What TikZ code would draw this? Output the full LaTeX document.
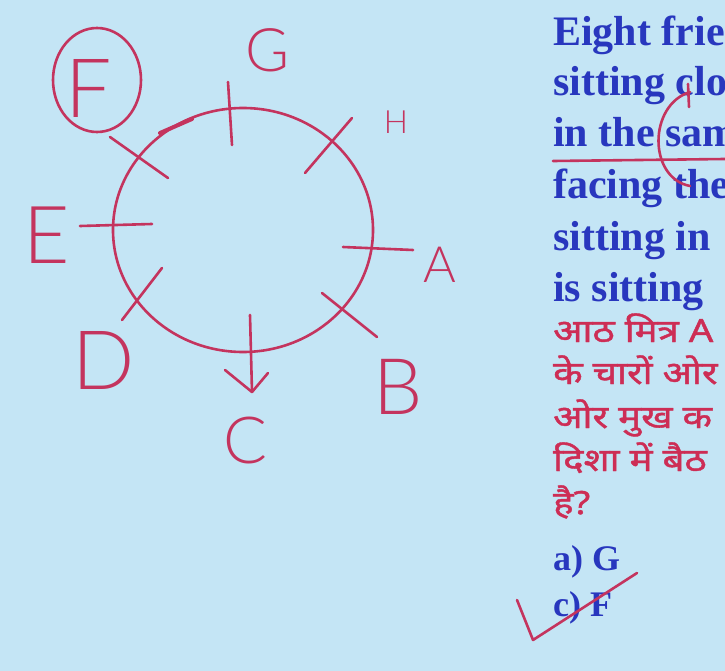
\documentclass[tikz,border=0pt]{standalone}
\usepackage{fontspec}
\setmainfont{Liberation Serif}
\newfontfamily\hindifont[Script=Devanagari,FakeBold=1.2]{Noto Sans}
\newfontfamily\handfont{Lato Light}
\usetikzlibrary{arrows.meta,positioning,shapes.geometric}
\definecolor{bgblue}{RGB}{196,229,245}
\definecolor{penred}{RGB}{196,52,94}
\definecolor{qblue}{RGB}{40,55,190}
\definecolor{hred}{RGB}{205,45,85}
\newcommand{\hwide}[1]{\scalebox{1.2}[1]{#1}}

\begin{document}
\begin{tikzpicture}[
  x=1pt,y=-1pt,
  pen/.style={draw=penred,line width=2.6pt,line cap=round,line join=round},
  hand/.style={text=penred,inner sep=0pt},
  qline/.style={anchor=base west,inner sep=0pt,text=qblue,font=\bfseries\fontsize{42}{42}\selectfont},
  hline/.style={anchor=base west,inner sep=0pt,text=hred,font=\hindifont\fontsize{32}{32}\selectfont},
  opt/.style={anchor=base west,inner sep=0pt,text=qblue,font=\bfseries\fontsize{36}{36}\selectfont}
]
\useasboundingbox (0,0) rectangle (725,671);
\clip (0,0) rectangle (725,671);
\fill[bgblue] (0,0) rectangle (725,671);

% seating ring
\node[pen,ellipse,minimum width=260,minimum height=244,inner sep=0pt] (ring) at (243,230) {};
\draw[pen,line width=4pt] (160,133) -- (192,119);

% ticks
\coordinate (g1) at (228,82);  \coordinate (g2) at (232,145);
\coordinate (h1) at (305,173); \coordinate (h2) at (352,118);
\coordinate (a1) at (343,247); \coordinate (a2) at (413,250);
\coordinate (b1) at (322,293); \coordinate (b2) at (377,337);
\coordinate (c1) at (250,315); \coordinate (c2) at (252,392);
\coordinate (d1) at (122,320); \coordinate (d2) at (162,268);
\coordinate (e1) at (80,226);  \coordinate (e2) at (152,224);
\coordinate (f1) at (110,137); \coordinate (f2) at (168,178);
\draw[pen] (g1) -- (g2);
\draw[pen] (h1) -- (h2);
\draw[pen] (a1) -- (a2);
\draw[pen] (b1) -- (b2);
\draw[pen] (c1) -- (c2);
\draw[pen] (225,370) -- (c2) -- (268,373);
\draw[pen] (d1) -- (d2);
\draw[pen] (e1) -- (e2);
\draw[pen] (f1) -- (f2);

% names
\node[hand,font=\handfont\fontsize{82}{82}\selectfont] (Fn) at (89,88) {F};
\node[pen,ellipse,minimum width=88,minimum height=104,inner sep=0pt] (Fring) at (97,80) {};
\node[hand,font=\handfont\fontsize{60}{60}\selectfont] (Gn) at (268,50) {G};
\node[hand,font=\handfont\fontsize{32}{32}\selectfont] (Hn) at (396,122) {H};
\node[hand,font=\handfont\fontsize{50}{50}\selectfont] (An) at (440,265) {A};
\node[hand,font=\handfont\fontsize{78}{78}\selectfont] (Bn) at (398,387) {B};
\node[hand,font=\handfont\fontsize{65}{65}\selectfont] (Cn) at (245,441) {C};
\node[hand,font=\handfont\fontsize{82}{82}\selectfont] (Dn) at (104,360) {D};
\node[hand,font=\handfont\fontsize{80}{80}\selectfont] (En) at (47,235) {E};

% question text
\node[qline] (q1) at (553,46)  {Eight frie};
\node[qline] (q2) at (553,96)  {sitting clo};
\node[qline] (q3) at (553,147) {in the sam};
\node[qline] (q4) at (553,198) {facing the};
\node[qline] (q5) at (553,250) {sitting in};
\node[qline] (q6) at (553,301) {is sitting};
\node[hline] (h1) at (553,342) {\hwide{आठ मित्र A}};
\node[hline] (h2) at (553,384) {\hwide{के चारों ओर}};
\node[hline] (h3) at (553,428) {\hwide{ओर मुख क}};
\node[hline] (h4) at (553,471) {\hwide{दिशा में बैठ}};
\node[hline] (h5) at (553,514) {\hwide{है?}};
\node[opt] (oa) at (553,570) {a) G};
\node[opt] (oc) at (553,616) {c) F};

% marks on the text
\coordinate (u1) at (553,161); \coordinate (u2) at (725,159);
\draw[pen] (u1) -- (u2);
\coordinate (k1) at (690,92); \coordinate (k2) at (690,186);
\draw[pen] (k1) .. controls (648,105) and (648,178) .. (k2);
\draw[pen] (688,84) -- (689,107);
\coordinate (v1) at (517,600); \coordinate (v2) at (533,640); \coordinate (v3) at (637,573);
\draw[pen] (v1) -- (v2) -- (v3);
\end{tikzpicture}
\end{document}
